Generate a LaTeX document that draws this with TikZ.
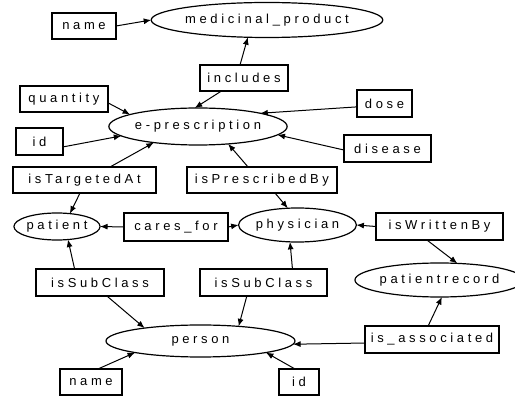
\documentclass[tikz,border=0pt]{standalone}
\usepackage{fontspec}
\newfontfamily\lblfont{Liberation Sans}[LetterSpace=28]
\usetikzlibrary{shapes.geometric,arrows.meta}
\begin{document}
\begin{tikzpicture}[x=1pt,y=-1pt,
  lbl/.style={font=\lblfont\fontsize{13}{15}\selectfont, inner sep=0pt, outer sep=0pt},
  box/.style={lbl, draw, rectangle, line width=1.2pt},
  oval/.style={lbl, draw, ellipse, line width=1.2pt},
  arr/.style={-{Latex[length=7.5pt,width=6pt]}, line width=1pt}]
\useasboundingbox[fill=white] (0,0) rectangle (515,398);

% classes
\node[oval, minimum width=182pt, minimum height=35pt] (med) at (267,20) {medicinal\_product};
\node[oval, minimum width=149pt, minimum height=37pt] (epres) at (198,126.5) {e-prescription};
\node[oval, minimum width=86pt, minimum height=27pt] (patient) at (57,226.5) {patient};
\node[oval, minimum width=95pt, minimum height=34pt] (physician) at (297.5,225) {physician};
\node[oval, minimum width=149pt, minimum height=34pt] (precord) at (439.5,280) {patientrecord};
\node[oval, minimum width=189pt, minimum height=32pt] (person) at (200.5,341) {person};

% properties
\node[box, minimum width=64pt, minimum height=26pt] (name1) at (84,26) {name};
\node[box, minimum width=88pt, minimum height=26pt] (includes) at (244,78) {includes};
\node[box, minimum width=88pt, minimum height=26pt] (quantity) at (64,99) {quantity};
\node[box, minimum width=55pt, minimum height=27pt] (dose) at (384.5,103.5) {dose};
\node[box, minimum width=47pt, minimum height=27pt] (id1) at (39.5,141.5) {id};
\node[box, minimum width=87pt, minimum height=27pt] (disease) at (387.5,148.5) {disease};
\node[box, minimum width=143pt, minimum height=26pt] (target) at (84.5,180) {isTargetedAt};
\node[box, minimum width=150pt, minimum height=26pt] (presby) at (262,180) {isPrescribedBy};
\node[box, minimum width=104pt, minimum height=28pt] (cares) at (176,227) {cares\_for};
\node[box, minimum width=127pt, minimum height=27pt] (written) at (439.5,226.5) {isWrittenBy};
\node[box, minimum width=128pt, minimum height=27pt] (subL) at (100,282.5) {isSubClass};
\node[box, minimum width=127pt, minimum height=27pt] (subR) at (263.5,282.5) {isSubClass};
\node[box, minimum width=134pt, minimum height=27pt] (assoc) at (432,339.5) {is\_associated};
\node[box, minimum width=62pt, minimum height=26pt] (name2) at (91,382) {name};
\node[box, minimum width=40pt, minimum height=26pt] (id2) at (299,382) {id};

% relations
\draw[arr] (name1.east) -- (med.west);
\draw[arr] (includes.107) -- (med.222);
\draw[arr] (includes.210) -- (epres.100);
\draw[arr] (quantity.-5) -- (epres.170);
\draw[arr] (id1.-13) -- (epres.187);
\draw[arr] (target.27) -- (epres.200);
\draw[arr] (dose.187) -- (epres.12);
\draw[arr] (disease.182) -- (epres.-6);
\draw[arr] (presby.137) -- (epres.330);

\draw[arr] (target.251) -- (patient.45);
\draw[arr] (presby.315) -- (physician.120);
\draw[arr] (cares.west) -- (patient.east);
\draw[arr] (cares.east) -- (physician.west);
\draw[arr] (written.west) -- (physician.east);
\draw[arr] (written.227) -- (precord.43);

\draw[arr] (subL.152) -- (patient.310);
\draw[arr] (subL.297) -- (person.167);
\draw[arr] (subR.25) -- (physician.246);
\draw[arr] (subR.219) -- (person.21);
\draw[arr] (assoc.106) -- (precord.278);
\draw[arr] (assoc.183) -- (person.358);
\draw[arr] (name2.62) -- (person.190);
\draw[arr] (id2.107) -- (person.350);
\end{tikzpicture}
\end{document}
